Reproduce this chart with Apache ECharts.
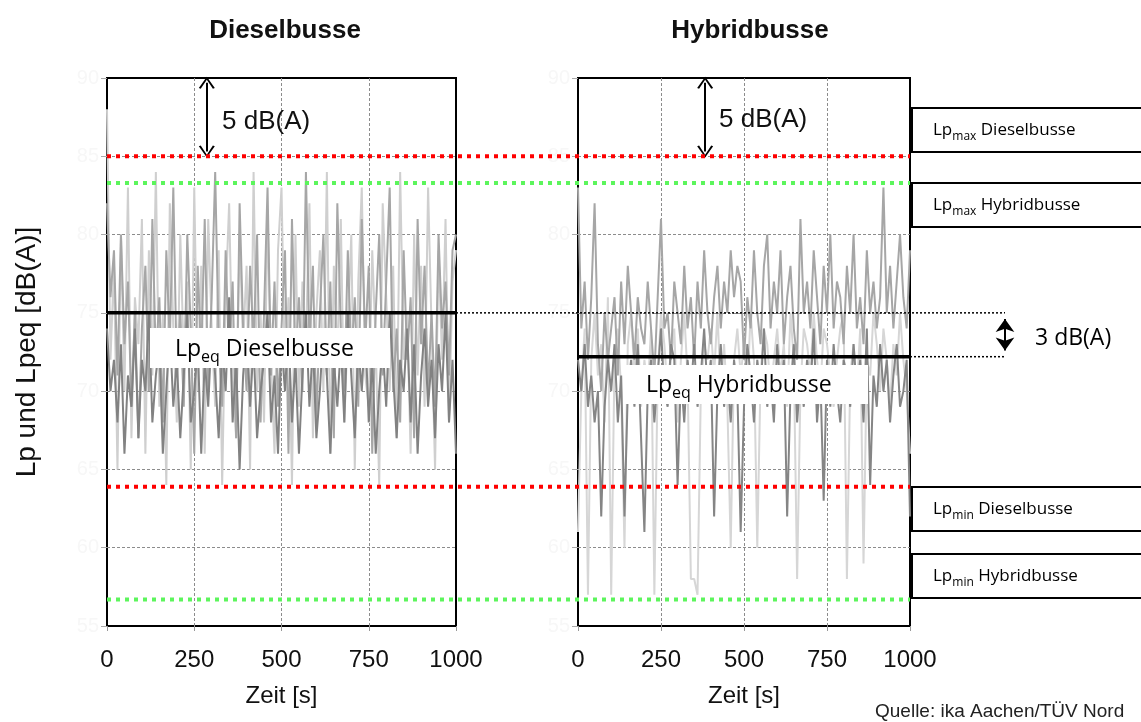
<!DOCTYPE html>
<html>
<head>
<meta charset="utf-8">
<title>Dieselbusse / Hybridbusse</title>
<script src="https://cdn.jsdelivr.net/npm/echarts@6/dist/echarts.min.js"></script>
<style>
    html, body {margin: 0; padding: 0; background: #fff;}
    #chart {width: 1141px; height: 722px;}
</style>
</head>
<body>
<div id="chart"></div>
<script>
    // Abtastung der Pegelverläufe (s)
    const timeStep = 10;
    const timeTicks = [0, 250, 500, 750, 1000];

    // Dieselbusse, drei Messfahrten, dB(A)
    const dieselLight = [88,72,78,65,80,70,83,67,76,73, 81,66,79,71,84,69,75,64,82,74,
        68,80,72,77,65,83,70,78,66,81, 74,69,79,64,76,82,71,67,80,73,
        78,65,84,70,75,68,81,72,66,79, 83,71,76,64,80,69,77,73,82,67,
        75,79,70,84,66,78,72,81,68,74, 80,65,77,83,71,69,79,73,64,82,
        76,70,78,67,84,72,75,66,80,71, 78,69,83,74,65,79,72,81,68,77, 79];
    const dieselMid = [82,76,79,71,80,73,77,69,75,67, 74,78,70,81,72,76,68,79,73,83,
        71,75,69,80,74,66,78,72,81,70, 76,84,73,69,79,72,77,67,82,74,
        70,78,73,80,68,75,83,71,77,69, 74,79,66,81,72,76,70,84,73,78,
        68,75,80,71,77,67,82,74,70,79, 72,76,69,81,73,78,66,75,80,71,
        77,83,70,74,68,79,72,76,67,81, 73,78,70,75,69,80,74,77,71,79, 80];
    const dieselDark = [74,70,72,68,73,66,71,69,74,67, 72,70,75,68,71,73,66,70,74,69,
        72,67,71,75,68,70,73,66,72,69, 74,71,67,73,70,76,68,72,65,71,
        74,69,73,67,70,72,75,68,71,66, 73,70,74,68,72,66,71,75,69,73,
        67,70,74,71,66,72,69,73,68,75, 71,67,73,70,74,68,72,66,70,73,
        69,75,71,67,72,70,74,68,73,66, 71,74,69,72,67,73,70,75,68,72, 66];

    // Hybridbusse, drei Messfahrten, dB(A)
    const hybridLight = [61,70,74,57,72,75,71,73,68,76, 57,72,74,70,60,73,75,71,74,69,
        72,70,74,57,71,75,73,70,72,74, 68,72,75,71,58,58,57,70,73,72,
        74,71,75,70,73,69,60,72,74,71, 73,70,75,72,60,71,74,73,70,72,
        74,71,73,69,75,72,58,70,74,73, 71,75,72,70,74,73,71,69,72,74,
        75,58,71,73,70,74,59,72,71,75, 73,70,74,72,69,73,71,75,72,70, 66];
    const hybridMid = [83,74,77,72,76,82,73,70,75,72, 74,76,71,77,73,78,75,72,76,74,
        73,77,74,71,76,81,74,75,72,77, 75,73,78,74,76,72,77,74,79,75,
        73,76,78,74,77,75,79,76,78,77, 72,76,74,79,75,73,78,80,74,77,
        75,79,73,76,78,74,72,81,75,77, 74,79,76,73,78,75,80,74,77,76,
        73,78,75,80,74,76,73,79,75,77, 74,76,83,75,78,74,77,80,76,74, 79];
    const hybridDark = [72,70,73,69,71,68,70,62,69,72, 70,73,68,71,62,70,72,69,73,67,
        61,70,72,68,71,74,70,69,73,72, 64,71,68,72,70,73,69,71,74,70,
        72,62,70,73,69,71,68,72,70,61, 69,73,71,68,72,70,74,69,71,68,
        73,70,72,62,70,73,68,71,69,72, 70,74,68,71,63,72,69,73,70,68,
        72,71,69,73,70,72,68,74,64,71, 69,73,70,72,68,71,73,69,70,72, 62];

    // Kennwerte dB(A)
    const lpMaxDiesel = 85;
    const lpMaxHybrid = 83.3;
    const lpMinDiesel = 63.9;
    const lpMinHybrid = 56.7;
    const lpEqDiesel = 75;
    const lpEqHybrid = 72.2;

    const yMin = 55, yMax = 90, yStep = 5;

    const toPoints = arr => arr.map((v, i) => [i * timeStep, v]);

    const chevron = 'path://M0,10 L5,0 L10,10 L8.8,10.6 L5,2.6 L1.2,10.6 Z';
    const font = '"Liberation Sans", Arial, sans-serif';
    const calibri = '"Open Sans", sans-serif';

    function panelXAxis(idx) {
        return {
            gridIndex: idx, type: 'value', min: 0, max: 1000, interval: 250,
            name: 'Zeit [s]', nameLocation: 'middle', nameGap: 58,
            nameTextStyle: {fontSize: 24, color: '#111', fontFamily: font},
            axisLine: {show: false},
            axisTick: {show: true, length: 5, lineStyle: {color: '#999'}},
            axisLabel: {fontSize: 24, color: '#111', fontFamily: font, margin: 22,
                formatter: v => timeTicks.indexOf(v) >= 0 ? String(v) : ''},
            splitLine: {show: true, showMinLine: false, showMaxLine: false,
                lineStyle: {color: '#8c8c8c', width: 1, type: [3, 2]}}
        }
    }
    function panelYAxis(idx, withName) {
        let ax = {
            gridIndex: idx, type: 'value', min: yMin, max: yMax, interval: yStep,
            axisLine: {show: false},
            axisTick: {show: true, length: 6, lineStyle: {color: '#aaa'}},
            axisLabel: {color: '#f7f7f7', fontSize: 20, fontFamily: font},
            splitLine: {show: true, showMinLine: false, showMaxLine: false,
                lineStyle: {color: '#8c8c8c', width: 1, type: [3, 2]}}
        };
        if (withName) {
            ax.name = 'Lp und Lpeq [dB(A)]';
            ax.nameLocation = 'middle';
            ax.nameGap = 66;
            ax.nameTextStyle = {fontSize: 28, color: '#111', fontFamily: font};
        }
        return ax
    }
    function hiddenX(idx) {
        return {gridIndex: idx, type: 'value', min: 0, max: 1, show: false}
    }
    function hiddenY(idx) {
        return {gridIndex: idx, type: 'value', min: yMin, max: yMax, show: false}
    }
    function trace(idx, data, color) {
        return {
            type: 'line', xAxisIndex: idx, yAxisIndex: idx, data: toPoints(data),
            symbol: 'none', silent: true, z: 2,
            lineStyle: {color: color, width: 2}
        }
    }
    function eqLine(idx, value) {
        return {
            type: 'line', xAxisIndex: idx, yAxisIndex: idx, symbol: 'none', silent: true, z: 4,
            data: [[0, value], [1000, value]],
            lineStyle: {color: '#000', width: 3.5}
        }
    }
    function dotted(idx, value, color, width, dash) {
        return {
            type: 'line', xAxisIndex: idx, yAxisIndex: idx, symbol: 'none', silent: true, z: 5,
            data: [[0, value], [1, value]],
            lineStyle: {color: color, width: width, type: dash, cap: 'butt'}
        }
    }
    function arrow5(idx, t) {
        return {
            type: 'line', xAxisIndex: idx, yAxisIndex: idx, data: [], silent: true, z: 6,
            markLine: {
                silent: true, symbol: [chevron, chevron], symbolSize: [16, 12],
                label: {show: false},
                lineStyle: {color: '#000', width: 2, type: 'solid'},
                data: [[{coord: [t, yMax - 0.3]}, {coord: [t, lpMaxDiesel + 0.3]}]]
            }
        }
    }

    const sub = (main, small, rest, size) => ({
        text: '{a|' + main + '}{b|' + small + '}{a|' + rest + '}',
        rich: {
            a: {fontSize: size, fontFamily: calibri, fill: '#000', verticalAlign: 'bottom'},
            b: {fontSize: Math.round(size * 0.68), fontFamily: calibri, fill: '#000',
                verticalAlign: 'bottom', padding: [0, 0, -Math.round(size * 0.22), 0]}
        }
    });

    function legendBox(top, main, small, rest) {
        return [
            {type: 'rect', z: 20, shape: {x: 912, y: top, width: 250, height: 44},
                style: {fill: '#fff', stroke: '#000', lineWidth: 2}},
            {type: 'text', z: 21, x: 933, y: top + 22,
                style: Object.assign(sub(main, small, rest, 17), {textVerticalAlign: 'middle'})}
        ]
    }

    const chart = echarts.init(document.getElementById('chart'));
    chart.setOption({
        animation: false,
        title: [
            {text: 'Dieselbusse', left: 280, top: 13, textAlign: 'center',
                textStyle: {fontSize: 26, fontWeight: 'bold', color: '#111', fontFamily: font}},
            {text: 'Hybridbusse', left: 745, top: 13, textAlign: 'center',
                textStyle: {fontSize: 26, fontWeight: 'bold', color: '#111', fontFamily: font}}
        ],
        grid: [
            {left: 107, top: 78, width: 349, height: 548, show: true, borderColor: '#000', borderWidth: 2},
            {left: 578, top: 78, width: 332, height: 548, show: true, borderColor: '#000', borderWidth: 2},
            // Lpmax / Lpmin über beide Diagramme
            {left: 107, top: 78, width: 803, height: 548},
            // Verlängerung Lpeq Diesel bis zum 3-dB-Pfeil
            {left: 456, top: 78, width: 549, height: 548},
            // Verlängerung Lpeq Hybrid
            {left: 910, top: 78, width: 95, height: 548}
        ],
        xAxis: [panelXAxis(0), panelXAxis(1), hiddenX(2), hiddenX(3), hiddenX(4)],
        yAxis: [panelYAxis(0, true), panelYAxis(1, false), hiddenY(2), hiddenY(3), hiddenY(4)],
        series: [
            trace(0, dieselLight, '#cfcfcf'),
            trace(0, dieselMid, '#a6a6a6'),
            trace(0, dieselDark, '#828282'),
            eqLine(0, lpEqDiesel),
            arrow5(0, 286),

            trace(1, hybridLight, '#d6d6d6'),
            trace(1, hybridMid, '#a6a6a6'),
            trace(1, hybridDark, '#858585'),
            eqLine(1, lpEqHybrid),
            arrow5(1, 383),

            dotted(2, lpMaxDiesel, '#ff0000', 4, [4, 5]),
            dotted(2, lpMaxHybrid, '#5cf55c', 4, [4, 5]),
            dotted(2, lpMinDiesel, '#ff0000', 4, [4, 5]),
            dotted(2, lpMinHybrid, '#5cf55c', 4, [4, 5]),

            dotted(3, lpEqDiesel, '#000', 1.5, [2, 2]),
            dotted(4, lpEqHybrid, '#000', 1.5, [2, 2]),
            {
                type: 'line', xAxisIndex: 4, yAxisIndex: 4, data: [], silent: true, z: 6,
                markLine: {
                    silent: true, symbol: ['arrow', 'arrow'], symbolSize: [14, 13],
                    label: {show: false},
                    lineStyle: {color: '#000', width: 2, type: 'solid'},
                    data: [[{coord: [1, lpEqDiesel - 0.4]}, {coord: [1, lpEqHybrid + 0.4]}]]
                }
            }
        ],
        graphic: [
            {type: 'text', z: 20, x: 222, y: 122,
                style: {text: '5 dB(A)', font: '26px ' + font, fill: '#111', textVerticalAlign: 'middle'}},
            {type: 'text', z: 20, x: 719, y: 120,
                style: {text: '5 dB(A)', font: '26px ' + font, fill: '#111', textVerticalAlign: 'middle'}},
            {type: 'text', z: 20, x: 1035, y: 338,
                style: {text: '3 dB(A)', font: '23px ' + calibri, fill: '#000', textVerticalAlign: 'middle'}},

            {type: 'rect', z: 20, shape: {x: 150, y: 328, width: 240, height: 40}, style: {fill: '#fff'}},
            {type: 'text', z: 21, x: 175, y: 349,
                style: Object.assign(sub('Lp', 'eq', ' Dieselbusse', 23), {textVerticalAlign: 'middle'})},
            {type: 'rect', z: 20, shape: {x: 623, y: 365, width: 245, height: 39}, style: {fill: '#fff'}},
            {type: 'text', z: 21, x: 646, y: 385,
                style: Object.assign(sub('Lp', 'eq', ' Hybridbusse', 23), {textVerticalAlign: 'middle'})},

            ...legendBox(108, 'Lp', 'max', ' Dieselbusse'),
            ...legendBox(183, 'Lp', 'max', ' Hybridbusse'),
            ...legendBox(487, 'Lp', 'min', ' Dieselbusse'),
            ...legendBox(554, 'Lp', 'min', ' Hybridbusse'),

            {type: 'text', z: 20, x: 875, y: 712,
                style: {text: 'Quelle: ika Aachen/TÜV Nord', font: '19px ' + font, fill: '#222', textVerticalAlign: 'middle'}}
        ]
    });
</script>
</body>
</html>
